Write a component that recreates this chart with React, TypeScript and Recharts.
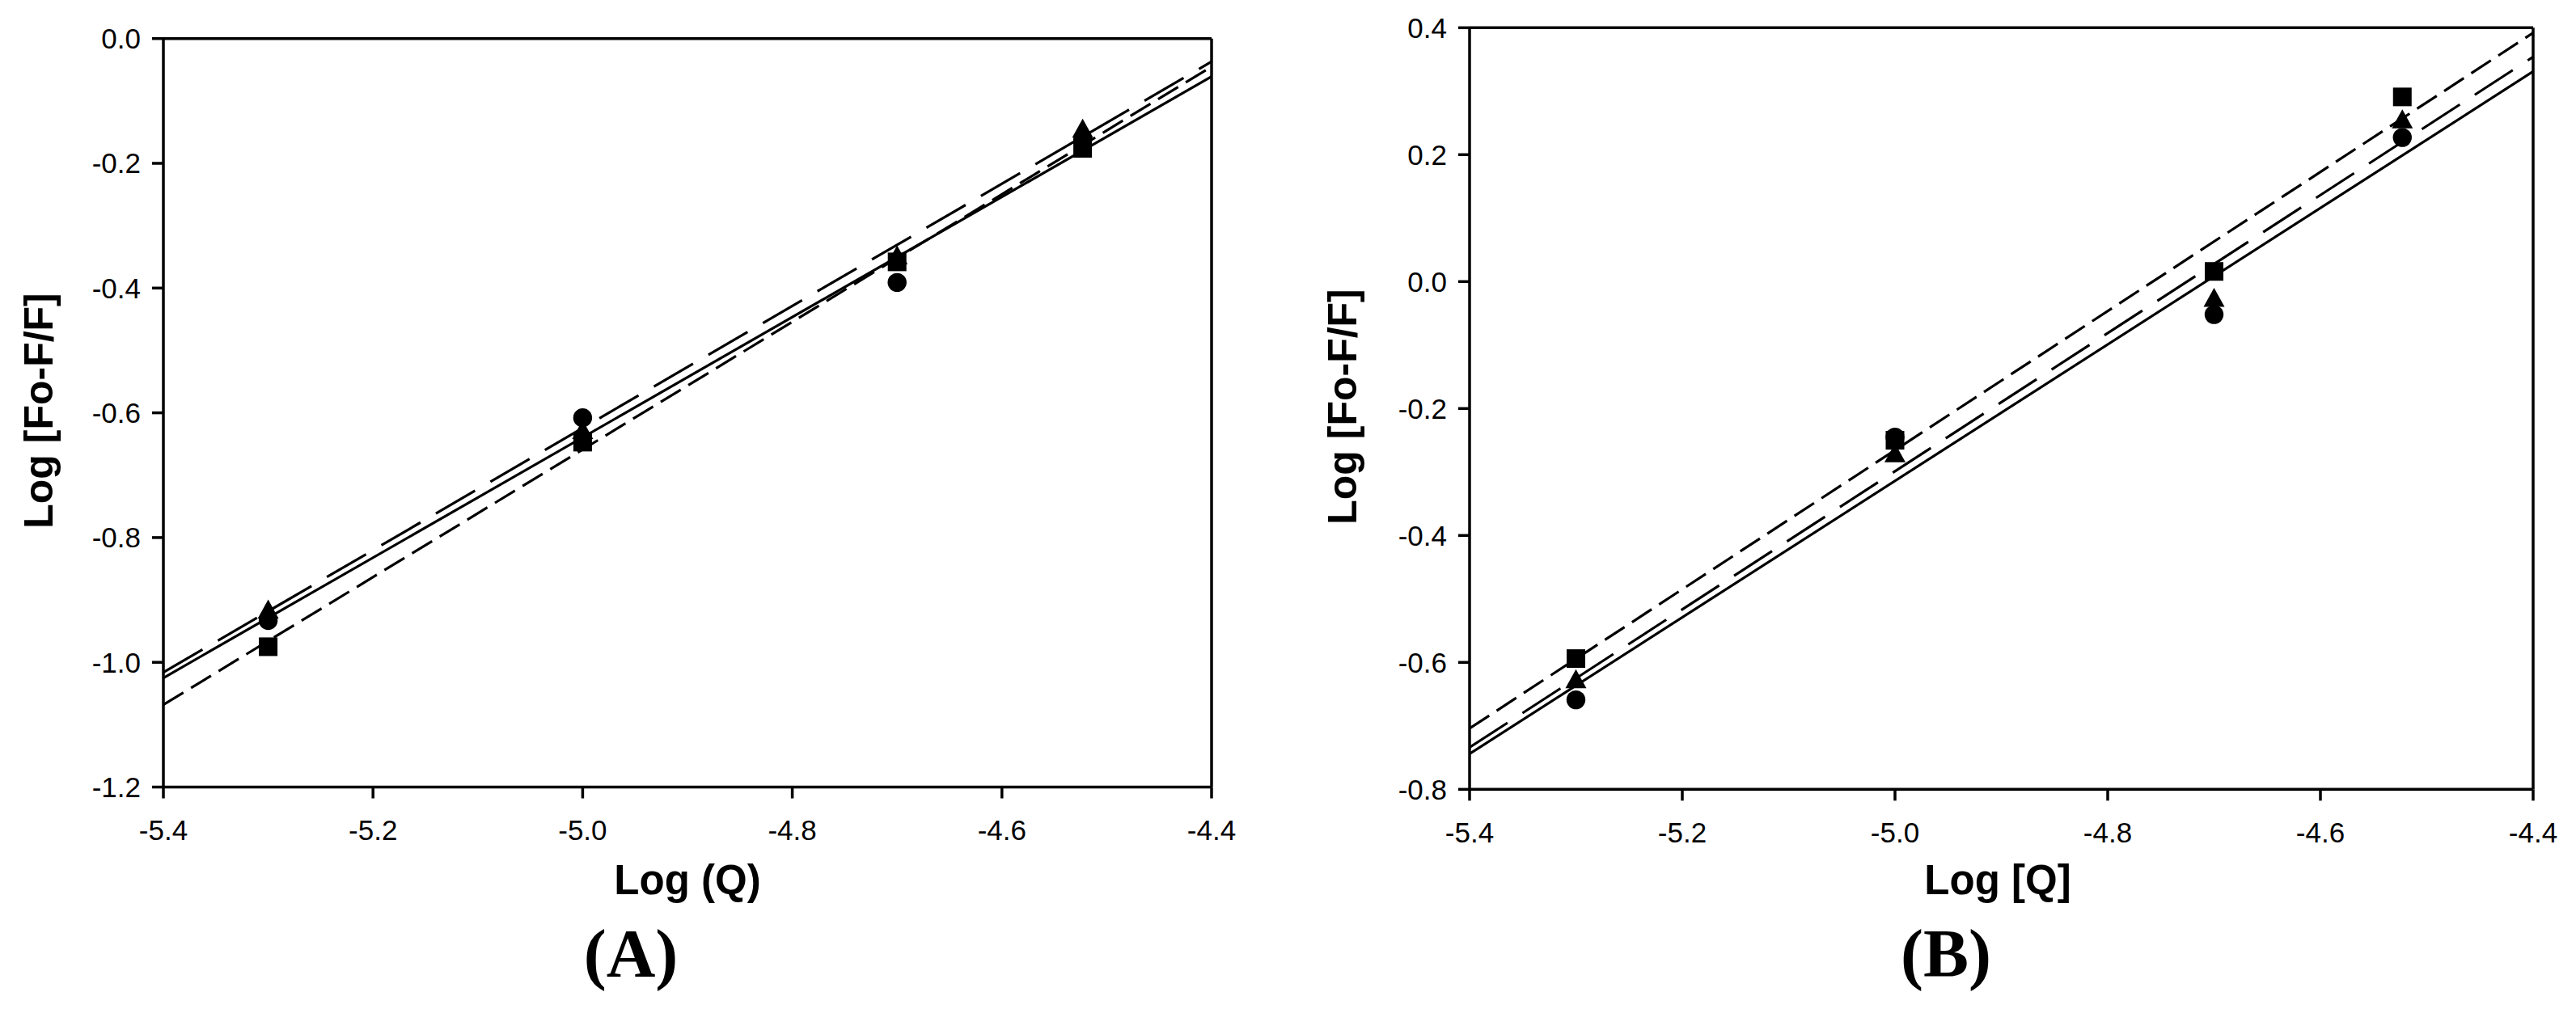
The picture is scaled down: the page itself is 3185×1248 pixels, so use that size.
import React from "react";
import {
  ComposedChart,
  Line,
  Scatter,
  XAxis,
  YAxis,
  ReferenceLine,
} from "recharts";

// ---- data ----
const xTicks = [-5.4, -5.2, -5.0, -4.8, -4.6, -4.4];
const aYTicks = [-1.2, -1.0, -0.8, -0.6, -0.4, -0.2, 0.0];
const bYTicks = [-0.8, -0.6, -0.4, -0.2, 0.0, 0.2, 0.4];

const logQ = [-5.3, -5.0, -4.7, -4.523];

const aCircle = [-0.933, -0.608, -0.391, -0.162];
const aTriangle = [-0.915, -0.627, -0.347, -0.144];
const aSquare = [-0.975, -0.647, -0.358, -0.176];

const bCircle = [-0.659, -0.245, -0.052, 0.227];
const bTriangle = [-0.626, -0.27, -0.025, 0.256];
const bSquare = [-0.594, -0.25, 0.016, 0.291];

const fitX = [-5.4, -4.4];
const aFitSolid = [-1.025, -0.061];
const aFitLongDash = [-1.016, -0.037];
const aFitShortDash = [-1.068, -0.045];
const bFitSolid = [-0.744, 0.331];
const bFitLongDash = [-0.734, 0.354];
const bFitShortDash = [-0.704, 0.392];

const toPts = (xs: number[], ys: number[]) => xs.map((x, i) => ({ x, y: ys[i] }));

const SQ = 23;
const SquareShape = (p: any) => (
  <rect x={p.cx - SQ / 2} y={p.cy - SQ / 2} width={SQ} height={SQ} fill="#000" />
);
const CircleShape = (p: any) => <circle cx={p.cx} cy={p.cy} r={11.7} fill="#000" />;
const TriangleShape = (p: any) => (
  <path
    d={`M${p.cx},${p.cy - 12} L${p.cx + 13},${p.cy + 11.5} L${p.cx - 13},${p.cy + 11.5} Z`}
    fill="#000"
  />
);

const tickStyle = { fill: "#000", fontSize: 35, fontFamily: "'Liberation Sans', Arial, sans-serif" };
const axisLine = { stroke: "#000", strokeWidth: 3.5 };
const fmt = (v: number) => v.toFixed(1);

type PanelProps = {
  left: number;
  width: number;
  margin: { top: number; right: number; bottom: number; left: number };
  yAxisWidth: number;
  yDomain: [number, number];
  yTicks: number[];
  circle: number[];
  triangle: number[];
  square: number[];
  fitSolid: number[];
  fitLong: number[];
  fitShort: number[];
};

function Panel(props: PanelProps) {
  const { left, width, margin, yAxisWidth, yDomain, yTicks } = props;
  return (
    <div style={{ position: "absolute", left, top: 0 }}>
      <ComposedChart width={width} height={1248} margin={margin}>
        <XAxis
          type="number"
          dataKey="x"
          domain={[-5.4, -4.4]}
          ticks={xTicks}
          allowDataOverflow
          tickFormatter={fmt}
          tick={tickStyle}
          axisLine={axisLine}
          tickLine={axisLine}
          tickSize={14}
          tickMargin={27}
          height={80}
          interval={0}
        />
        <YAxis
          type="number"
          dataKey="y"
          domain={yDomain}
          ticks={yTicks}
          allowDataOverflow
          tickFormatter={fmt}
          tick={tickStyle}
          axisLine={axisLine}
          tickLine={axisLine}
          tickSize={14}
          tickMargin={14}
          width={yAxisWidth}
          interval={0}
        />
        <ReferenceLine y={yDomain[1]} stroke="#000" strokeWidth={3.5} />
        <ReferenceLine x={-4.4} stroke="#000" strokeWidth={3.5} />
        <Line
          data={toPts(fitX, props.fitSolid)}
          dataKey="y"
          stroke="#000"
          strokeWidth={3.2}
          dot={false}
          isAnimationActive={false}
        />
        <Line
          data={toPts(fitX, props.fitLong)}
          dataKey="y"
          stroke="#000"
          strokeWidth={3.2}
          strokeDasharray="56 22"
          dot={false}
          isAnimationActive={false}
        />
        <Line
          data={toPts(fitX, props.fitShort)}
          dataKey="y"
          stroke="#000"
          strokeWidth={3.2}
          strokeDasharray="29 11"
          dot={false}
          isAnimationActive={false}
        />
        <Scatter data={toPts(logQ, props.circle)} shape={CircleShape} isAnimationActive={false} />
        <Scatter data={toPts(logQ, props.triangle)} shape={TriangleShape} isAnimationActive={false} />
        <Scatter data={toPts(logQ, props.square)} shape={SquareShape} isAnimationActive={false} />
      </ComposedChart>
    </div>
  );
}

const sans = "'Liberation Sans', Arial, sans-serif";
const serif = "'Liberation Serif', 'Times New Roman', serif";

export default function App() {
  return (
    <div style={{ position: "absolute", left: 0, top: 0, width: 3185, height: 1248, background: "#fff" }}>
      <Panel
        left={0}
        width={1560}
        margin={{ top: 47.7, right: 62, bottom: 1248 - 973.5 - 80, left: 0 }}
        yAxisWidth={202}
        yDomain={[-1.2, 0]}
        yTicks={aYTicks}
        circle={aCircle}
        triangle={aTriangle}
        square={aSquare}
        fitSolid={aFitSolid}
        fitLong={aFitLongDash}
        fitShort={aFitShortDash}
      />
      <Panel
        left={1600}
        width={1585}
        margin={{ top: 34.3, right: 53, bottom: 1248 - 976.3 - 80, left: 0 }}
        yAxisWidth={217}
        yDomain={[-0.8, 0.4]}
        yTicks={bYTicks}
        circle={bCircle}
        triangle={bTriangle}
        square={bSquare}
        fitSolid={bFitSolid}
        fitLong={bFitLongDash}
        fitShort={bFitShortDash}
      />
      <svg
        width={3185}
        height={1248}
        style={{ position: "absolute", left: 0, top: 0, pointerEvents: "none" }}
      >
        <text
          x={65}
          y={508}
          transform="rotate(-90 65 508)"
          textAnchor="middle"
          fontFamily={sans}
          fontWeight="bold"
          fontSize={50}
          fill="#000"
        >
          Log [Fo-F/F]
        </text>
        <text
          x={1677}
          y={503}
          transform="rotate(-90 1677 503)"
          textAnchor="middle"
          fontFamily={sans}
          fontWeight="bold"
          fontSize={50}
          fill="#000"
        >
          Log [Fo-F/F]
        </text>
        <text x={850} y={1106} textAnchor="middle" fontFamily={sans} fontWeight="bold" fontSize={51} fill="#000">
          Log (Q)
        </text>
        <text x={2470} y={1106} textAnchor="middle" fontFamily={sans} fontWeight="bold" fontSize={51} fill="#000">
          Log [Q]
        </text>
        <text x={780} y={1208} textAnchor="middle" fontFamily={serif} fontWeight="bold" fontSize={84} fill="#000">
          (A)
        </text>
        <text x={2406} y={1208} textAnchor="middle" fontFamily={serif} fontWeight="bold" fontSize={84} fill="#000">
          (B)
        </text>
      </svg>
    </div>
  );
}
